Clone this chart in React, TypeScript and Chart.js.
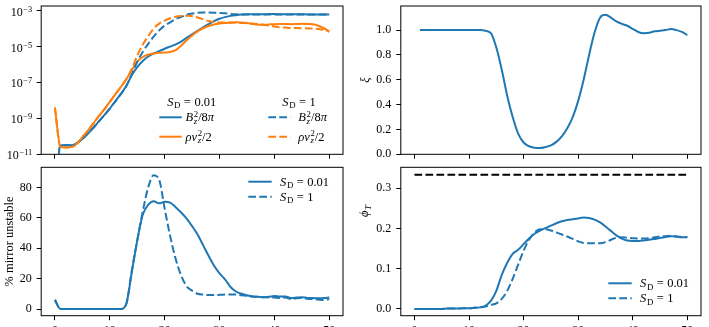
import React, { useEffect, useRef } from "react";
import { Chart, registerables } from "chart.js";

Chart.register(...registerables);

// ---------------- data ----------------
const TIME = [
  0, 1, 2, 3, 4, 5, 6, 7, 8, 9, 10, 11, 12, 13, 14, 15, 16, 17, 18, 19, 20, 21, 22, 23, 24, 25,
  26, 27, 28, 29, 30, 31, 32, 33, 34, 35, 36, 37, 38, 39, 40, 41, 42, 43, 44, 45, 46, 47, 48, 49, 50,
];

// log10 of energy densities
const B2_SD001_LOG10 = [
  -14, -10.5, -10.5, -10.5, -10.38, -10.15, -9.85, -9.52, -9.17, -8.82, -8.45, -8.05, -7.65, -7.2,
  -6.6, -6.15, -5.8, -5.55, -5.38, -5.25, -5.12, -5.0, -4.88, -4.72, -4.52, -4.32, -4.12, -3.93,
  -3.75, -3.58, -3.45, -3.36, -3.29, -3.25, -3.22, -3.2, -3.2, -3.2, -3.2, -3.19, -3.19, -3.2, -3.2,
  -3.2, -3.2, -3.2, -3.21, -3.21, -3.22, -3.22, -3.22,
];
const B2_SD1_LOG10 = [
  -14, -10.5, -10.5, -10.5, -10.38, -10.15, -9.85, -9.52, -9.17, -8.82, -8.45, -8.05, -7.65, -7.2,
  -6.55, -5.85, -5.3, -4.85, -4.45, -4.1, -3.83, -3.65, -3.47, -3.35, -3.23, -3.16, -3.12, -3.1,
  -3.1, -3.11, -3.13, -3.15, -3.18, -3.2, -3.21, -3.21, -3.21, -3.21, -3.21, -3.21, -3.21, -3.21,
  -3.21, -3.21, -3.21, -3.21, -3.22, -3.22, -3.22, -3.22, -3.22,
];
const RHO_SD001_LOG10 = [
  -8.4, -10.58, -10.62, -10.6, -10.4, -10.05, -9.68, -9.28, -8.88, -8.5, -8.08, -7.66, -7.25, -6.82,
  -6.32, -5.85, -5.58, -5.45, -5.38, -5.35, -5.33, -5.3, -5.2, -4.95, -4.65, -4.38, -4.15, -3.98,
  -3.85, -3.77, -3.72, -3.69, -3.67, -3.65, -3.66, -3.69, -3.74, -3.78, -3.79, -3.77, -3.75, -3.74,
  -3.74, -3.75, -3.74, -3.73, -3.74, -3.76, -3.84, -3.98, -4.15,
];
const RHO_SD1_LOG10 = [
  -8.4, -10.58, -10.62, -10.6, -10.4, -10.05, -9.68, -9.28, -8.88, -8.5, -8.08, -7.66, -7.25, -6.82,
  -6.25, -5.5, -4.9, -4.42, -4.0, -3.72, -3.55, -3.42, -3.34, -3.3, -3.28, -3.3, -3.38, -3.47,
  -3.58, -3.64, -3.66, -3.66, -3.66, -3.67, -3.68, -3.7, -3.72, -3.74, -3.78, -3.83, -3.88, -3.92,
  -3.94, -3.96, -3.97, -3.98, -3.99, -4.0, -4.02, -4.07, -4.17,
];

const XI = [
  null, 1, 1, 1, 1, 1, 1, 1, 1, 1, 1, 1, 1, 0.995, 0.975, 0.86, 0.68, 0.47, 0.3, 0.166, 0.095,
  0.065, 0.053, 0.05, 0.058, 0.072, 0.1, 0.145, 0.21, 0.3, 0.43, 0.6, 0.8, 0.98, 1.1, 1.123, 1.1,
  1.07, 1.05, 1.035, 1.01, 0.985, 0.975, 0.978, 0.99, 0.995, 1.0, 1.008, 1.0, 0.985, 0.96,
];

const MIRROR_SD001 = [
  6, 0, 0, 0, 0, 0, 0, 0, 0, 0, 0, 0, 0, 3.3, 24, 45, 62, 68.5, 70.8, 69.5, 70.5, 70, 67, 63.5,
  59.5, 54.5, 49, 42, 35, 28.5, 23.5, 19.5, 14.5, 11.5, 10, 9, 8.2, 8, 7.8, 8, 8.5, 8.2, 8.3, 7.3,
  7.5, 7.8, 7.3, 7.2, 7, 7.2, 7.5,
];
const MIRROR_SD1 = [
  6, 0, 0, 0, 0, 0, 0, 0, 0, 0, 0, 0, 0, 3.3, 25, 45, 64, 80, 88, 85, 66, 48, 33, 22, 15, 12, 10,
  9.5, 9.2, 9.2, 9.3, 9.5, 9.6, 9.5, 9, 8.7, 8.2, 8, 7.8, 7.6, 7.5, 7.2, 7.6, 6.6, 7, 7.2, 6.8,
  6.5, 6.2, 6, 6.5,
];

const PHI_SD001 = [
  0, 0, 0, 0, 0, 0, 0.001, 0.001, 0.001, 0.002, 0.002, 0.003, 0.004, 0.008, 0.02, 0.045, 0.085,
  0.115, 0.137, 0.147, 0.161, 0.175, 0.187, 0.195, 0.201, 0.207, 0.213, 0.218, 0.221, 0.223, 0.225,
  0.227, 0.226, 0.222, 0.215, 0.205, 0.194, 0.183, 0.175, 0.17, 0.169, 0.169, 0.17, 0.172, 0.174,
  0.176, 0.179, 0.181, 0.18, 0.178, 0.178,
];
const PHI_SD1 = [
  0, 0, 0, 0, 0, 0, 0.001, 0.001, 0.001, 0.002, 0.002, 0.003, 0.004, 0.006, 0.01, 0.014, 0.025,
  0.045, 0.075, 0.11, 0.145, 0.172, 0.19, 0.198, 0.198, 0.195, 0.19, 0.185, 0.18, 0.174, 0.168,
  0.164, 0.163, 0.163, 0.163, 0.166, 0.172, 0.177, 0.178, 0.177, 0.176, 0.175, 0.175, 0.176, 0.178,
  0.18, 0.181, 0.182, 0.18, 0.179, 0.179,
];
const PHI_LIMIT_TIME = [0, 50];
const PHI_LIMIT = [0.3333, 0.3333];

const X_TICKS = [0, 10, 20, 30, 40, 50];
const X_TICK_LABELS = ["0", "10", "20", "30", "40", "50"];
const LOG_TICK_EXPONENTS = [-11, -9, -7, -5, -3];
const XI_TICKS = [0, 0.2, 0.4, 0.6, 0.8, 1.0];
const MIRROR_TICKS = [0, 20, 40, 60, 80];
const PHI_TICKS = [0, 0.1, 0.2, 0.3];

// ---------------- styling ----------------
const BLUE = "#1f77b4";
const ORANGE = "#ff7f0e";
const FONT = '"Liberation Serif", "DejaVu Serif", serif';
const DASH = [7.7, 3.3];
const LW = 2;
const TICK_FONT = 12;
const TEXT_FONT = 12.5;

type Seg = { t?: string; it?: boolean; sub?: string; subIt?: boolean; sup?: string; sp?: number };

function fontStr(size: number, italic?: boolean) {
  return `${italic ? "italic " : ""}${size}px ${FONT}`;
}

function segWidth(ctx: CanvasRenderingContext2D, s: Seg, size: number) {
  if (s.sp) return s.sp * size;
  ctx.font = fontStr(size, s.it);
  const w = ctx.measureText(s.t || "").width;
  const ss = size * 0.7;
  let sw = 0;
  if (s.sub) {
    ctx.font = fontStr(ss, s.subIt);
    sw = Math.max(sw, ctx.measureText(s.sub).width);
  }
  if (s.sup) {
    ctx.font = fontStr(ss, false);
    sw = Math.max(sw, ctx.measureText(s.sup).width);
  }
  return w + (sw ? sw + size * 0.05 : 0);
}

function drawRich(
  ctx: CanvasRenderingContext2D,
  segs: Seg[],
  x: number,
  yc: number,
  size: number,
  align: "left" | "center" | "right",
  supRaise = 0.38
) {
  const total = segs.reduce((a, s) => a + segWidth(ctx, s, size), 0);
  let cx = align === "center" ? x - total / 2 : align === "right" ? x - total : x;
  const base = yc + size * 0.33;
  ctx.textAlign = "left";
  ctx.textBaseline = "alphabetic";
  ctx.fillStyle = "#000";
  for (const s of segs) {
    if (s.sp) {
      cx += s.sp * size;
      continue;
    }
    ctx.font = fontStr(size, s.it);
    ctx.fillText(s.t || "", cx, base);
    cx += ctx.measureText(s.t || "").width;
    if (s.sub || s.sup) {
      cx += size * 0.05;
      const ss = size * 0.7;
      let sw = 0;
      if (s.sub) {
        ctx.font = fontStr(ss, s.subIt);
        ctx.fillText(s.sub, cx, base + size * 0.2);
        sw = Math.max(sw, ctx.measureText(s.sub).width);
      }
      if (s.sup) {
        ctx.font = fontStr(ss, false);
        ctx.fillText(s.sup, cx, base - size * supRaise);
        sw = Math.max(sw, ctx.measureText(s.sup).width);
      }
      cx += sw;
    }
  }
}

const LBL_SD001: Seg[] = [{ t: "S", it: true, sub: "D" }, { sp: 0.28 }, { t: "=" }, { sp: 0.28 }, { t: "0.01" }];
const LBL_SD1: Seg[] = [{ t: "S", it: true, sub: "D" }, { sp: 0.28 }, { t: "=" }, { sp: 0.28 }, { t: "1" }];
const LBL_B2: Seg[] = [{ t: "B", it: true, sub: "z", subIt: true, sup: "2" }, { t: "/8" }, { t: "π", it: true }];
const LBL_RHO: Seg[] = [{ t: "ρv", it: true, sub: "z", subIt: true, sup: "2" }, { t: "/2" }];
const LBL_XI: Seg[] = [{ t: "ξ", it: true }];
const LBL_MIRROR: Seg[] = [{ t: "% mirror unstable" }];
const LBL_PHI: Seg[] = [{ t: "ϕ", it: true, sub: "T", subIt: true }];

function pts(xs: number[], ys: (number | null)[]) {
  return xs.map((x, i) => ({ x, y: ys[i] }));
}
function logPts(xs: number[], ys: number[]) {
  return xs.map((x, i) => ({ x, y: Math.pow(10, ys[i]) }));
}

function line(data: any[], color: string, dashed: boolean) {
  return {
    data,
    borderColor: color,
    borderWidth: LW,
    borderDash: dashed ? DASH : [],
    borderCapStyle: "butt",
    borderJoinStyle: "round",
    pointRadius: 0,
    fill: false,
    cubicInterpolationMode: "monotone",
  };
}

function strokeSample(ctx: CanvasRenderingContext2D, x1: number, x2: number, y: number, color: string, dashed: boolean) {
  ctx.save();
  ctx.beginPath();
  ctx.setLineDash(dashed ? DASH : []);
  ctx.lineWidth = LW;
  ctx.strokeStyle = color;
  ctx.lineCap = "butt";
  ctx.moveTo(x1, y);
  ctx.lineTo(x2, y);
  ctx.stroke();
  ctx.restore();
}

function rotatedTitle(ctx: CanvasRenderingContext2D, segs: Seg[], x: number, y: number) {
  ctx.save();
  ctx.translate(x, y);
  ctx.rotate(-Math.PI / 2);
  drawRich(ctx, segs, 0, 0, TEXT_FONT, "center");
  ctx.restore();
}

type Area = { l: number; t: number; r: number; b: number };
type Spec = {
  key: string;
  left: number;
  top: number;
  w: number;
  h: number;
  area: Area;
  xLabels: boolean;
  yType: "linear" | "logarithmic";
  yMin: number;
  yMax: number;
  yTicks: number[];
  yDecimals: number;
  yCustomLog?: boolean;
  datasets: any[];
  decorate: (ctx: CanvasRenderingContext2D, chart: any) => void;
};

function buildConfig(spec: Spec): any {
  const gridCommon = {
    display: true,
    drawOnChartArea: false,
    drawTicks: true,
    tickLength: 4.5,
    color: "#000",
    lineWidth: 1,
  };
  const frame = {
    id: "frame_" + spec.key,
    afterDraw(chart: any) {
      const ctx: CanvasRenderingContext2D = chart.ctx;
      const a = chart.chartArea;
      ctx.save();
      ctx.strokeStyle = "#000";
      ctx.lineWidth = 1;
      ctx.setLineDash([]);
      ctx.strokeRect(a.left, a.top, a.right - a.left, a.bottom - a.top);
      ctx.restore();
      ctx.save();
      spec.decorate(ctx, chart);
      ctx.restore();
    },
  };
  return {
    type: "line",
    data: { datasets: spec.datasets.slice().reverse() },
    options: {
      animation: false,
      responsive: false,
      devicePixelRatio: 1,
      events: [],
      layout: { padding: { left: 0, top: spec.area.t, right: spec.w - spec.area.r, bottom: 0 } },
      plugins: { legend: { display: false }, tooltip: { enabled: false }, title: { display: false } },
      scales: {
        x: {
          type: "linear",
          min: -2.5,
          max: 52.5,
          afterBuildTicks: (s: any) => {
            s.ticks = X_TICKS.map((v) => ({ value: v }));
          },
          afterFit: (s: any) => {
            s.height = spec.h - spec.area.b;
            s.paddingLeft = 0;
            s.paddingRight = 0;
          },
          grid: gridCommon,
          border: { display: false },
          ticks: {
            display: spec.xLabels,
            autoSkip: false,
            maxRotation: 0,
            padding: 3.5,
            color: "#000",
            font: { family: FONT, size: TICK_FONT },
            callback: (v: number) => {
              const i = X_TICKS.indexOf(v);
              return i >= 0 ? X_TICK_LABELS[i] : "";
            },
          },
        },
        y: {
          type: spec.yType,
          min: spec.yMin,
          max: spec.yMax,
          afterBuildTicks: (s: any) => {
            s.ticks = spec.yTicks.map((v) => ({ value: v }));
          },
          afterFit: (s: any) => {
            s.width = spec.area.l;
            s.paddingTop = 0;
            s.paddingBottom = 0;
          },
          grid: gridCommon,
          border: { display: false },
          ticks: {
            display: !spec.yCustomLog,
            autoSkip: false,
            padding: 5,
            color: "#000",
            font: { family: FONT, size: TICK_FONT },
            callback: (v: number) => Number(v).toFixed(spec.yDecimals),
          },
        },
      },
    },
    plugins: [frame],
  };
}

function Panel({ spec }: { spec: Spec }) {
  const ref = useRef<HTMLCanvasElement>(null);
  useEffect(() => {
    const chart = new Chart(ref.current as HTMLCanvasElement, buildConfig(spec));
    return () => chart.destroy();
  }, []);
  return (
    <canvas
      ref={ref}
      width={spec.w}
      height={spec.h}
      style={{ position: "absolute", left: spec.left, top: spec.top, width: spec.w, height: spec.h, display: "block" }}
    />
  );
}

const SPECS: Spec[] = [
  {
    key: "energy",
    left: 0,
    top: 0,
    w: 354,
    h: 166,
    area: { l: 41.2, t: 6, r: 343, b: 154.3 },
    xLabels: false,
    yType: "logarithmic",
    yMin: 1e-11,
    yMax: 1.82e-3,
    yTicks: LOG_TICK_EXPONENTS.map((e) => Math.pow(10, e)),
    yDecimals: 0,
    yCustomLog: true,
    datasets: [
      line(logPts(TIME, B2_SD001_LOG10), BLUE, false),
      line(logPts(TIME, RHO_SD001_LOG10), ORANGE, false),
      line(logPts(TIME, B2_SD1_LOG10), BLUE, true),
      line(logPts(TIME, RHO_SD1_LOG10), ORANGE, true),
    ],
    decorate: (ctx, chart) => {
      const ys = chart.scales.y;
      const a = chart.chartArea;
      for (const e of LOG_TICK_EXPONENTS) {
        const y = ys.getPixelForValue(Math.pow(10, e));
        drawRich(ctx, [{ t: "10", sup: "\u2212" + String(-e) }], a.left - 9, y + 1, TICK_FONT, "right", 0.33);
      }
      drawRich(ctx, LBL_SD001, 191.7, 101.7, TEXT_FONT, "center");
      drawRich(ctx, LBL_SD1, 299, 101.7, TEXT_FONT, "center");
      strokeSample(ctx, 159.3, 181.7, 117.3, BLUE, false);
      drawRich(ctx, LBL_B2, 185.5, 117.3, TEXT_FONT, "left");
      strokeSample(ctx, 159.3, 181.7, 136.7, ORANGE, false);
      drawRich(ctx, LBL_RHO, 185.5, 136.7, TEXT_FONT, "left");
      strokeSample(ctx, 268.3, 290.5, 117.3, BLUE, true);
      drawRich(ctx, LBL_B2, 298.3, 117.3, TEXT_FONT, "left");
      strokeSample(ctx, 268.3, 290.5, 136.7, ORANGE, true);
      drawRich(ctx, LBL_RHO, 298.3, 136.7, TEXT_FONT, "left");
    },
  },
  {
    key: "xi",
    left: 355,
    top: 0,
    w: 354,
    h: 166,
    area: { l: 45.8, t: 6, r: 346, b: 154.3 },
    xLabels: false,
    yType: "linear",
    yMin: 0,
    yMax: 1.194,
    yTicks: XI_TICKS,
    yDecimals: 1,
    datasets: [line(pts(TIME, XI), BLUE, false)],
    decorate: (ctx) => {
      rotatedTitle(ctx, LBL_XI, 10, 80);
    },
  },
  {
    key: "mirror",
    left: 0,
    top: 160,
    w: 354,
    h: 175,
    area: { l: 41.2, t: 7.3, r: 343, b: 155.7 },
    xLabels: true,
    yType: "linear",
    yMin: -4.4,
    yMax: 93.2,
    yTicks: MIRROR_TICKS,
    yDecimals: 0,
    datasets: [line(pts(TIME, MIRROR_SD001), BLUE, false), line(pts(TIME, MIRROR_SD1), BLUE, true)],
    decorate: (ctx) => {
      rotatedTitle(ctx, LBL_MIRROR, 9, 81.5);
      strokeSample(ctx, 248.3, 271.7, 21.7, BLUE, false);
      drawRich(ctx, LBL_SD001, 280, 21.7, TEXT_FONT, "left");
      strokeSample(ctx, 248.3, 271.7, 36.7, BLUE, true);
      drawRich(ctx, LBL_SD1, 280, 36.7, TEXT_FONT, "left");
    },
  },
  {
    key: "phi",
    left: 355,
    top: 160,
    w: 354,
    h: 175,
    area: { l: 45.8, t: 7.3, r: 346, b: 155.7 },
    xLabels: true,
    yType: "linear",
    yMin: -0.0167,
    yMax: 0.352,
    yTicks: PHI_TICKS,
    yDecimals: 1,
    datasets: [
      line(pts(TIME, PHI_SD001), BLUE, false),
      line(pts(TIME, PHI_SD1), BLUE, true),
      line(pts(PHI_LIMIT_TIME, PHI_LIMIT), "#000", true),
    ],
    decorate: (ctx) => {
      rotatedTitle(ctx, LBL_PHI, 9, 51);
      strokeSample(ctx, 253.3, 276.7, 123.3, BLUE, false);
      drawRich(ctx, LBL_SD001, 285, 123.3, TEXT_FONT, "left");
      strokeSample(ctx, 253.3, 276.7, 138.3, BLUE, true);
      drawRich(ctx, LBL_SD1, 285, 138.3, TEXT_FONT, "left");
    },
  },
];

export default function App() {
  return (
    <div
      style={{
        position: "fixed",
        left: 0,
        top: 0,
        width: 709,
        height: 327,
        overflow: "hidden",
        background: "#fff",
      }}
    >
      {SPECS.map((s) => (
        <Panel key={s.key} spec={s} />
      ))}
    </div>
  );
}
